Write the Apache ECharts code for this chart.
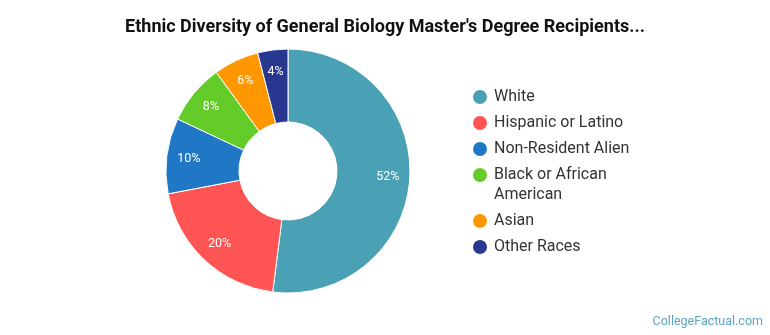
<!DOCTYPE html>
<html>
<head>
<meta charset="utf-8">
<script src="https://cdn.jsdelivr.net/npm/echarts@6/dist/echarts.min.js"></script>
<style>
  html, body { margin: 0; padding: 0; background: #fff; }
  #main { width: 770px; height: 335px; }
</style>
</head>
<body>
<div id="main"></div>
<script>
// categories and shares (percent)
var categories = ['White', 'Hispanic or Latino', 'Non-Resident Alien', 'Black or African American', 'Asian', 'Other Races'];
var shares = [52, 20, 10, 8, 6, 4];
var colors = ['#4aa0b4', '#ff5454', '#1f77c6', '#63cc28', '#ff9800', '#28378f'];

var chart = echarts.init(document.getElementById('main'));

var pieData = categories.map(function (name, i) {
    return { name: name, value: shares[i], itemStyle: { color: colors[i] } };
});

// legend text uses a rich-text dot so a wrapped name keeps its dot on the first line
var rich = {
    t: { fontSize: 16, color: '#333', lineHeight: 20, fontFamily: 'Roboto' },
    g: { width: 7 },
    g2: { width: 21 }
};
colors.forEach(function (c, i) {
    rich['c' + i] = { width: 14, height: 14, borderRadius: 7, backgroundColor: c };
});

var option = {
    animation: false,
    textStyle: { fontFamily: 'Roboto' },
    title: [
        {
            text: "Ethnic Diversity of General Biology Master's Degree Recipients...",
            left: 'center',
            top: 18,
            padding: 0,
            textStyle: { fontSize: 18, fontWeight: 'bold', color: '#111', fontFamily: 'Roboto' }
        },
        {
            text: 'CollegeFactual.com',
            right: 7,
            bottom: 7,
            padding: 0,
            textStyle: { fontSize: 12.5, fontWeight: 'normal', color: '#5aa6c0', fontFamily: 'Roboto' }
        }
    ],
    legend: {
        orient: 'vertical',
        left: 468,
        top: 89,
        padding: 0,
        itemGap: 10,
        itemWidth: 0,
        itemHeight: 0,
        icon: 'none',
        data: categories,
        selectedMode: false,
        formatter: function (name) {
            var i = categories.indexOf(name);
            if (name === 'Black or African American') {
                return '{c' + i + '|}{g|}{t|Black or African}\n{g2|}{t|American}';
            }
            return '{c' + i + '|}{g|}{t|' + name + '}';
        },
        textStyle: { rich: rich }
    },
    series: [
        {
            name: 'Ethnicity',
            type: 'pie',
            center: [288, 171],
            radius: [49, 122],
            startAngle: 90,
            clockwise: true,
            silent: true,
            label: { show: false },
            labelLine: { show: false },
            itemStyle: { borderColor: '#fff', borderWidth: 1 },
            data: pieData
        },
        {
            // transparent ring used only to place the percent labels
            name: 'labels',
            type: 'pie',
            center: [288, 171],
            radius: [73, 121],
            startAngle: 90,
            clockwise: true,
            silent: true,
            legendHoverLink: false,
            itemStyle: { color: 'rgba(0,0,0,0)', borderWidth: 0 },
            label: {
                show: true,
                position: 'inside',
                formatter: '{c}%',
                color: '#fff',
                fontSize: 12.5,
                fontFamily: 'Roboto'
            },
            labelLine: { show: false },
            data: categories.map(function (name, i) {
                return { name: name, value: shares[i] };
            })
        }
    ]
};

chart.setOption(option);
</script>
</body>
</html>
